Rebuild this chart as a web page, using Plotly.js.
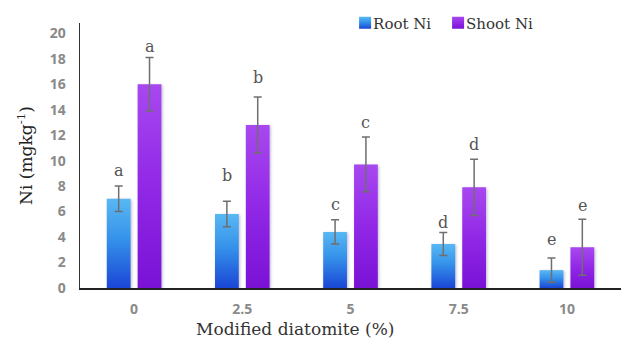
<!DOCTYPE html>
<html>
<head>
<meta charset="utf-8">
<script src="https://cdn.plot.ly/plotly-3.0.1.min.js"></script>
<style>
  html, body { margin: 0; padding: 0; background: #ffffff; }
  #chart { width: 621px; height: 348px; }
</style>
</head>
<body>
<div id="chart"></div>
<script>
// Ni content by modified diatomite dose
const doses = ['0', '2.5', '5', '7.5', '10'];
const rootNi = [7.0, 5.8, 4.4, 3.45, 1.4];
const rootErr = [1.0, 1.0, 0.95, 0.9, 0.95];
const shootNi = [16.0, 12.8, 9.7, 7.9, 3.2];
const shootErr = [2.1, 2.2, 2.15, 2.2, 2.2];
const rootLetters = ['a', 'b', 'c', 'd', 'e'];
const shootLetters = ['a', 'b', 'c', 'd', 'e'];

// vertical pixel lift of each significance letter above its error cap
const rootLift = [16, 26, 15, 10, 19];
const shootLift = [11, 19, 15, 15, 14];

const serif = 'DejaVu Serif, serif';
const tickFont = { family: 'Open Sans, sans-serif', size: 14, color: '#8a8a8a', weight: 700 };

const errStyle = { type: 'data', visible: true, thickness: 1.5, width: 4, color: '#6f6f6f' };

const traces = [
  {
    type: 'bar', name: 'Root Ni', x: doses, y: rootNi,
    marker: { color: '#2f7fe6' },
    error_y: Object.assign({ array: rootErr }, errStyle)
  },
  {
    type: 'bar', name: 'Shoot Ni', x: doses, y: shootNi,
    marker: { color: '#8f24e4' },
    error_y: Object.assign({ array: shootErr }, errStyle)
  }
];

const offset = 0.143;
const letterFont = { family: serif, size: 16, color: '#555555' };
const annotations = [];
doses.forEach((d, i) => {
  annotations.push({
    x: i - offset, y: rootNi[i] + rootErr[i], xref: 'x', yref: 'y',
    text: rootLetters[i], showarrow: false, yanchor: 'middle', yshift: rootLift[i],
    font: letterFont
  });
  annotations.push({
    x: i + offset, y: shootNi[i] + shootErr[i], xref: 'x', yref: 'y',
    text: shootLetters[i], showarrow: false, yanchor: 'middle', yshift: shootLift[i],
    font: letterFont
  });
});
annotations.push({
  xref: 'paper', yref: 'paper', x: 0.397, y: -0.155, xanchor: 'center', yanchor: 'middle',
  text: 'Modified diatomite (%)', showarrow: false,
  font: { family: serif, size: 17, color: '#333333' }
});

const layout = {
  width: 621, height: 348,
  margin: { l: 80, r: 0, t: 23, b: 60 },
  paper_bgcolor: '#ffffff', plot_bgcolor: '#ffffff',
  barmode: 'group', bargap: 0.43, bargroupgap: 0.23,
  showlegend: true,
  legend: {
    orientation: 'h', x: 0.49, xanchor: 'left', y: 1.0, yanchor: 'middle',
    font: { family: serif, size: 15, color: '#333333' },
    itemwidth: 30, bgcolor: 'rgba(0,0,0,0)'
  },
  xaxis: {
    type: 'category', range: [-0.5, 4.5],
    showline: true, linecolor: '#222222', linewidth: 1.5,
    showgrid: false, zeroline: false, ticks: '',
    tickfont: tickFont, ticklabelstandoff: 8
  },
  yaxis: {
    range: [0, 20.8], tickvals: [0, 2, 4, 6, 8, 10, 12, 14, 16, 18, 20],
    showline: true, linecolor: '#333333', linewidth: 1.5,
    showgrid: false, zeroline: false, ticks: '',
    tickfont: tickFont, ticklabelstandoff: 10,
    title: { text: 'Ni (mgkg<sup>-1</sup>)', font: { family: serif, size: 17, color: '#222222' }, standoff: 12 }
  },
  annotations: annotations
};

Plotly.newPlot('chart', traces, layout, { displayModeBar: false, staticPlot: true }).then(gd => {
  // vertical colour gradients for the bars and legend swatches
  const svg = gd.querySelector('svg.main-svg');
  const ns = 'http://www.w3.org/2000/svg';
  let defs = svg.querySelector('defs');
  if (!defs) { defs = document.createElementNS(ns, 'defs'); svg.insertBefore(defs, svg.firstChild); }
  const grads = [
    { id: 'gradRoot', stops: [['0%', '#58b8f3'], ['45%', '#3592ea'], ['100%', '#1a46d6']] },
    { id: 'gradShoot', stops: [['0%', '#a848f0'], ['50%', '#9128e6'], ['100%', '#7a12d6']] }
  ];
  grads.forEach(g => {
    const lg = document.createElementNS(ns, 'linearGradient');
    lg.setAttribute('id', g.id);
    lg.setAttribute('x1', '0'); lg.setAttribute('y1', '0');
    lg.setAttribute('x2', '0'); lg.setAttribute('y2', '1');
    g.stops.forEach(s => {
      const st = document.createElementNS(ns, 'stop');
      st.setAttribute('offset', s[0]);
      st.setAttribute('stop-color', s[1]);
      lg.appendChild(st);
    });
    defs.appendChild(lg);
  });
  const barTraces = gd.querySelectorAll('.barlayer .trace.bars');
  barTraces.forEach((t, k) => {
    t.querySelectorAll('.point path').forEach(p => {
      p.style.fill = 'url(#' + grads[k].id + ')';
      p.style.filter = 'drop-shadow(1px 1px 1.5px rgba(60,40,120,0.35))';
    });
  });
  // tighter legend: swatch right next to its label
  const legendItems = gd.querySelectorAll('.legend .traces');
  let baseX = null;
  legendItems.forEach((t, k) => {
    t.querySelectorAll('.legendpoints path').forEach(p => {
      p.style.fill = 'url(#' + grads[k].id + ')';
    });
    const txt = t.querySelector('.legendtext');
    if (txt) txt.setAttribute('x', '28');
    const m = /translate\(([-\d.]+)[ ,]+([-\d.]+)\)/.exec(t.getAttribute('transform') || '');
    if (m) {
      if (baseX === null) baseX = parseFloat(m[1]);
      t.setAttribute('transform', 'translate(' + (baseX + 93 * k) + ',' + m[2] + ')');
    }
  });
});
</script>
</body>
</html>
